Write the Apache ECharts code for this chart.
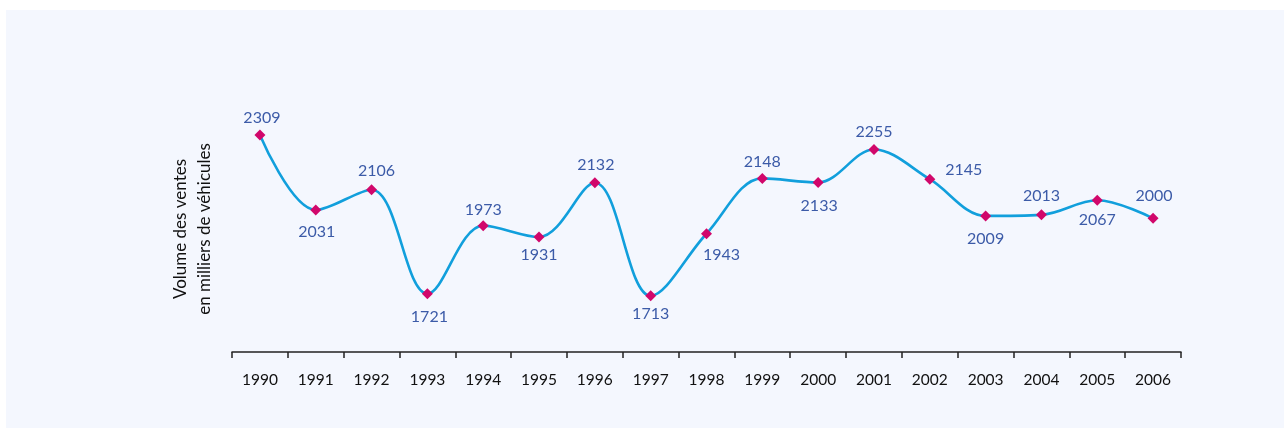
<!DOCTYPE html>
<html><head><meta charset="utf-8">
<script src="https://cdn.jsdelivr.net/npm/echarts@6/dist/echarts.min.js"></script>
<style>html,body{margin:0;padding:0;background:#fff}#c{width:1284px;height:428px}</style>
</head><body><div id="c"></div>
<script>
const years = ['1990','1991','1992','1993','1994','1995','1996','1997','1998','1999','2000','2001','2002','2003','2004','2005','2006'];
const ventes = [2309,2031,2106,1721,1973,1931,2132,1713,1943,2148,2133,2255,2145,2009,2013,2067,2000];
const yTitleLines = ['Volume des ventes','en milliers de véhicules'];
// label placement (style): [dx, dy] from marker centre
const labelOffsets = [[2,-17],[1,22],[5,-19],[2,23],[0,-16],[0,18],[1,-18],[0,18],[15,21],[0,-17],[1,23],[0,-18],[34,-9],[0,23],[0,-19],[0,20],[1,-23]];

const chart = echarts.init(document.getElementById('c'));
const data = ventes.map((v,i)=>({
  value: v,
  label: {offset: labelOffsets[i]}
}));
chart.setOption({
  animation:false,
  graphic:[
    {type:'rect', shape:{x:6,y:10,width:1278,height:418}, style:{fill:'#f4f7fe'}, z:-10},
    {type:'text', x:193, y:229, rotation:Math.PI/2,
     style:{text:yTitleLines.join('\n'), font:'17px Lato', fill:'#111', align:'center', verticalAlign:'middle', lineHeight:24}}
  ],
  grid:{left:232,right:103,top:82,height:270},
  xAxis:{type:'category', data:years, boundaryGap:true,
    axisLine:{lineStyle:{color:'#222',width:1.5}},
    axisTick:{show:true,length:6,inside:false,lineStyle:{color:'#222',width:1.5}},
    axisLabel:{color:'#111',fontFamily:'Lato',fontSize:15.5,margin:20}},
  yAxis:{type:'value',min:1505,max:2505,show:false},
  series:[{type:'line', data:data, smooth:0.35,
    lineStyle:{color:'#119fdc',width:2.6},
    symbol:'diamond', symbolSize:11,
    itemStyle:{color:'#d1076b'},
    label:{show:true, position:'inside', color:'#3c5ba8', fontFamily:'Lato', fontSize:16}
  }]
});
</script></body></html>
